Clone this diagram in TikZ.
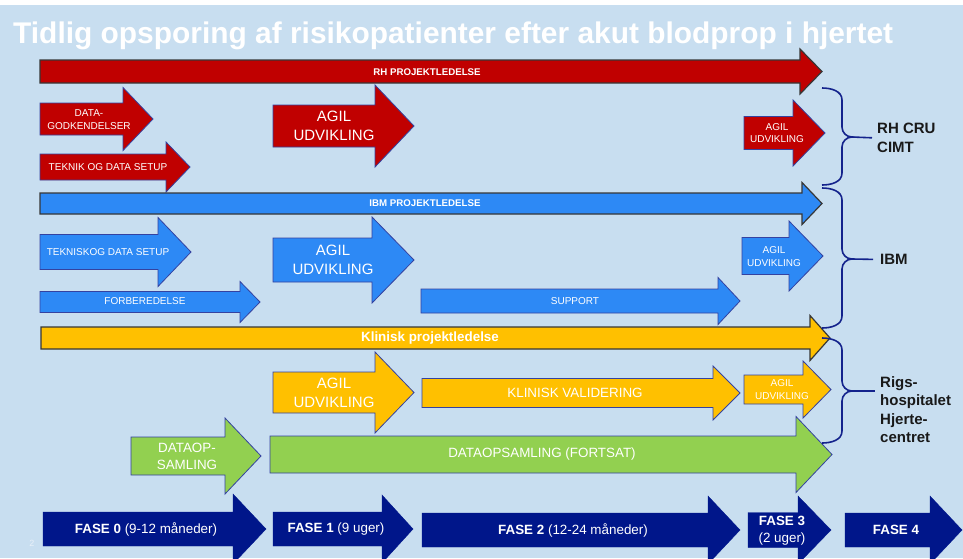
\documentclass[tikz,border=0pt]{standalone}
\usepackage{fontspec}
\setmainfont{Liberation Sans}
\usepackage{xcolor}
\definecolor{slidebg}{RGB}{200,222,240}
\definecolor{rhred}{RGB}{192,0,0}
\definecolor{ibmblue}{RGB}{45,137,245}
\definecolor{klinik}{RGB}{255,192,0}
\definecolor{datagreen}{RGB}{146,208,80}
\definecolor{fasenavy}{RGB}{0,22,138}
\definecolor{edgeblue}{RGB}{52,66,160}
\definecolor{bargray}{RGB}{55,55,55}
\definecolor{bracenavy}{RGB}{20,35,140}
\newcommand{\blokpil}[7][]{%
  \draw[#1] (#2,#5-#6) -- (#3,#5-#6) -- (#3,#5-#7) -- (#4,#5) -- (#3,#5+#7) -- (#3,#5+#6) -- (#2,#5+#6) -- cycle;}

\begin{document}
\begin{tikzpicture}[x=1pt, y=-1pt,
    bar/.style={draw=bargray, line width=1.2pt},
    pil/.style={draw=edgeblue, line width=0.8pt},
    fase/.style={fill=fasenavy, draw=fasenavy},
    lbl/.style={text=white, align=center, inner sep=0pt},
    lille/.style={lbl, font=\fontsize{10}{12.5}\selectfont},
    stor/.style={lbl, font=\fontsize{15}{19}\selectfont},
    mellem/.style={lbl, font=\fontsize{13.4}{17}\selectfont},
    gruppe/.style={text={rgb,255:red,25;green,25;blue,25}, align=left, anchor=west, inner sep=0pt,
      font=\bfseries\fontsize{15}{18.5}\selectfont},
    brace/.style={draw=bracenavy, line width=1.6pt}]
    \useasboundingbox (0,0) rectangle (963,558);
    \fill[white] (0,0) rectangle (963,5);
    \fill[slidebg] (0,5) rectangle (963,558);
    \node[anchor=base west, text=white, inner sep=0pt, font=\bfseries\fontsize{29.9}{32}\selectfont]
        (titel) at (13,43.5) {Tidlig opsporing af risikopatienter efter akut blodprop i hjertet};

    \blokpil[bar, fill=rhred]{40}{800}{822}{71.5}{11.5}{22.5}
    \node[lbl, font=\bfseries\fontsize{9.7}{11}\selectfont] (rhpl) at (427,72) {RH PROJEKTLEDELSE};
    \blokpil[pil, fill=rhred]{40}{123}{153}{119}{16}{31.5}
    \node[lille] (datagod) at (89,119.5) {DATA-\\GODKENDELSER};
    \blokpil[pil, fill=rhred]{40}{166}{190}{167}{13}{25}
    \node[lille] (teknik) at (108,167) {TEKNIK OG DATA SETUP};
    \blokpil[pil, fill=rhred]{273}{375}{414}{126}{21}{41}
    \node[stor] (rhagil) at (334,126) {AGIL\\UDVIKLING};
    \blokpil[pil, fill=rhred]{744}{793}{825}{133}{16.5}{33}
    \node[lille] (rhagilb) at (777,133) {AGIL\\UDVIKLING};

    \blokpil[bar, fill=ibmblue]{40}{802}{822}{203.5}{10.5}{21}
    \node[lbl, font=\bfseries\fontsize{9.7}{11}\selectfont] (ibmpl) at (425,203.5) {IBM PROJEKTLEDELSE};
    \blokpil[pil, fill=ibmblue]{40}{158}{191}{252}{17.5}{34.5}
    \node[lille] (teknisk) at (108,252) {TEKNISKOG DATA SETUP};
    \blokpil[pil, fill=ibmblue]{273}{372}{414}{260}{22}{43}
    \node[stor] (ibmagil) at (333,260) {AGIL\\UDVIKLING};
    \blokpil[pil, fill=ibmblue]{40}{240}{260}{302}{10.5}{20.5}
    \node[lille] (forb) at (145,301) {FORBEREDELSE};
    \blokpil[pil, fill=ibmblue]{421}{718}{740}{301}{12}{23.5}
    \node[lille] (support) at (575,301) {SUPPORT};
    \blokpil[pil, fill=ibmblue]{742}{789}{823}{256}{18.5}{35}
    \node[lille] (ibmagilb) at (774,256.5) {AGIL\\UDVIKLING};

    \blokpil[bar, fill=klinik]{41}{810}{830}{338}{11}{22.5}
    \node[lbl, font=\bfseries\fontsize{13.4}{15}\selectfont] (klinpl) at (430,338) {Klinisk projektledelse};
    \blokpil[pil, fill=klinik]{273}{375}{414}{392.5}{20.5}{40.5}
    \node[stor] (klinagil) at (334,392.5) {AGIL\\UDVIKLING};
    \blokpil[pil, fill=klinik]{422}{713}{740}{393}{14.5}{27}
    \node[mellem] (valid) at (575,393) {KLINISK VALIDERING};
    \blokpil[pil, fill=klinik]{744}{803}{831}{389.5}{14.5}{28.5}
    \node[lille] (klinagilb) at (782,389.5) {AGIL\\UDVIKLING};

    \blokpil[pil, fill=datagreen]{131}{225}{261}{456}{19}{38}
    \node[mellem] (dataop) at (187,456) {DATAOP-\\SAMLING};
    \blokpil[pil, fill=datagreen]{270}{796}{832}{454.5}{18.5}{38}
    \node[mellem] (datafort) at (542,454.5) {DATAOPSAMLING (FORTSAT)};

    \blokpil[fase]{43}{233}{266}{529}{17}{35}
    \node[mellem] (fase0) at (146,529) {\textbf{FASE 0} (9-12 måneder)};
    \blokpil[fase]{273}{382}{413}{529}{17}{34}
    \node[mellem] (fase1) at (336,529) {\textbf{FASE 1} (9 uger)};
    \blokpil[fase]{422}{708}{740}{530}{17}{34}
    \node[mellem] (fase2) at (573,530) {\textbf{FASE 2} (12-24 måneder)};
    \blokpil[fase]{748}{798}{831}{530}{17.5}{34}
    \node[mellem] (fase3) at (782,530.5) {\textbf{FASE 3}\\(2 uger)};
    \blokpil[fase]{845}{930}{962}{530}{17}{34}
    \node[mellem] (fase4) at (896,530) {\textbf{FASE 4}};
    \node[text={rgb,255:red,232;green,240;blue,248}, inner sep=0pt, font=\fontsize{9}{10}\selectfont] (side) at (32,543) {2};

    \node[gruppe] (cru) at (877,138) {RH CRU\\CIMT};
    \node[gruppe] (ibm) at (880,259.5) {IBM};
    \node[gruppe] (rigs) at (880,409.5) {Rigs-\\hospitalet\\Hjerte-\\centret};
    \draw[brace] (822,88) to[out=0, in=90] (842,100) -- (842,127) to[out=-90, in=180] (852,137)
        to[out=180, in=90] (842,147) -- (842,173) to[out=-90, in=0] (822,185);
    \draw[brace, shorten >=5pt] (852,137) -- (cru.west);
    \draw[brace] (822,188) to[out=0, in=90] (842,200) -- (842,249) to[out=-90, in=180] (852,259)
        to[out=180, in=90] (842,269) -- (842,316) to[out=-90, in=0] (822,328);
    \draw[brace, shorten >=7pt] (852,259) -- (ibm.west);
    \draw[brace] (822,338) to[out=0, in=90] (842,350) -- (842,381) to[out=-90, in=180] (852,391)
        to[out=180, in=90] (842,401) -- (842,431) to[out=-90, in=0] (822,443);
    \draw[brace, shorten >=5pt] (852,391) -- (rigs.west |- 0,391);
\end{tikzpicture}
\end{document}
